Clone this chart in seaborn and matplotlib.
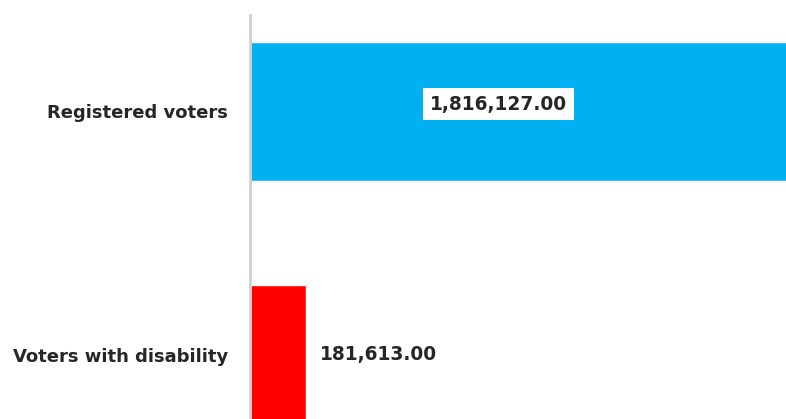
import matplotlib
matplotlib.use("Agg")
import matplotlib.pyplot as plt
import seaborn as sns
import pandas as pd

categories = ["Registered voters", "Voters with disability"]
values = [1816127.00, 181613.00]
colors = ["#00B0F0", "#FF0000"]

sns.set_theme(style="white")
plt.rcParams["font.family"] = ["DejaVu Sans"]

df = pd.DataFrame({"category": categories, "value": values})

fig = plt.figure(figsize=(7.86, 4.19), dpi=100)
ax = fig.add_axes([250 / 786, 0.0, 536 / 786, 404 / 419])

sns.barplot(data=df, y="category", x="value", hue="category",
            palette=colors, orient="h", width=0.574, legend=False,
            saturation=1, ax=ax)

ax.set_xlim(0, 1738000)
ax.set_ylim(1.264, -0.396)

for side in ("top", "right", "bottom"):
    ax.spines[side].set_visible(False)
ax.spines["left"].set_color("#D0D0D0")
ax.spines["left"].set_linewidth(2)
ax.set_xticks([])
ax.set_xlabel("")
ax.set_ylabel("")
ax.tick_params(axis="y", length=0, pad=16)
for lbl in ax.get_yticklabels():
    lbl.set_fontsize(13)
    lbl.set_fontweight("bold")
    lbl.set_color("#262626")

# value labels
big, small = values
ax.text(big * 0.4435, 0 - 0.03, f"{big:,.2f}", ha="center", va="center",
        fontsize=13.4, fontweight="bold", color="#262626",
        bbox=dict(facecolor="white", edgecolor="none", pad=5))
ax.annotate(f"{small:,.2f}", xy=(small, 1), xytext=(10, 0),
            textcoords="offset points", ha="left", va="center",
            fontsize=13.4, fontweight="bold", color="#262626")

fig.savefig("out.png", dpi=100)
